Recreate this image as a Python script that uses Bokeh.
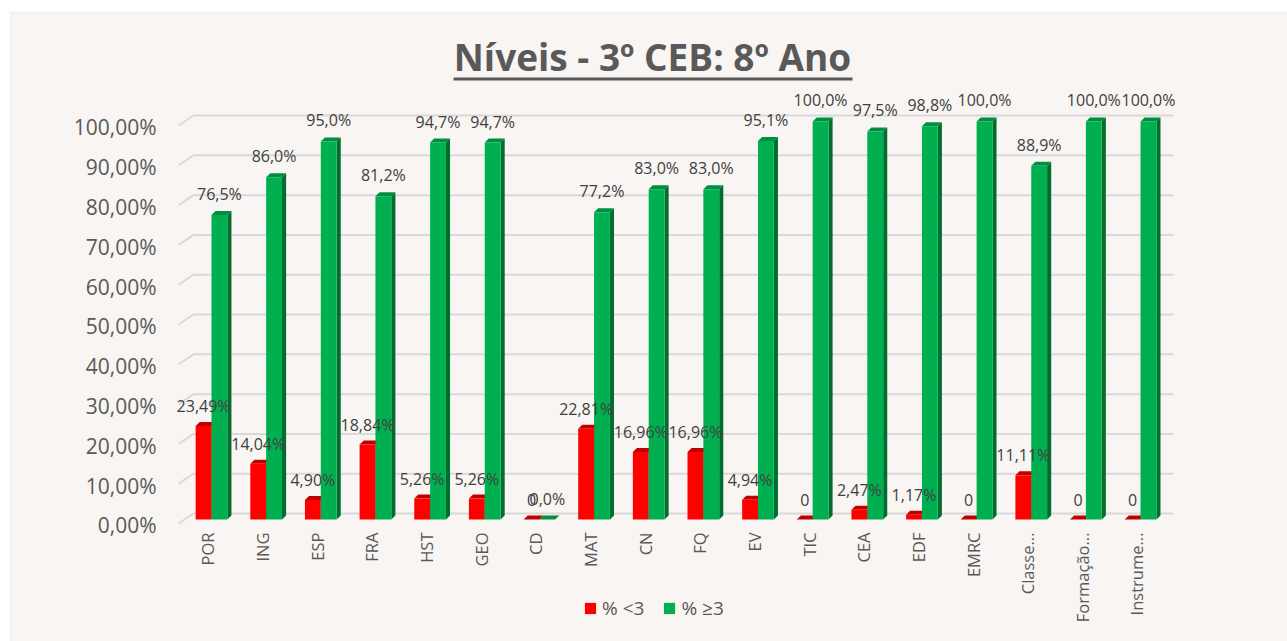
import math
from bokeh.plotting import figure
from bokeh.models import (Range1d, FixedTicker, LinearAxis, Label, BoxAnnotation,
                          Legend, LegendItem)
from bokeh.core.properties import value
from bokeh.embed import file_html
from bokeh.resources import INLINE

# ---------------- data ----------------
categories = ["POR", "ING", "ESP", "FRA", "HST", "GEO", "CD", "MAT", "CN", "FQ",
              "EV", "TIC", "CEA", "EDF", "EMRC", "Classe...", "Formação...", "Instrume..."]
pct_below = [23.49, 14.04, 4.90, 18.84, 5.26, 5.26, 0.0, 22.81, 16.96, 16.96,
             4.94, 0.0, 2.47, 1.17, 0.0, 11.11, 0.0, 0.0]
pct_above = [76.5, 86.0, 95.0, 81.2, 94.7, 94.7, 0.0, 77.2, 83.0, 83.0,
             95.1, 100.0, 97.5, 98.8, 100.0, 88.9, 100.0, 100.0]
y_ticks = [0, 10, 20, 30, 40, 50, 60, 70, 80, 90, 100]
series_names = ["% <3", "% ≥3"]
title_text = "Níveis - 3º CEB: 8º Ano"

# ---------------- style ----------------
BG = "#F8F5F2"
GRID = "#D9D9D9"
TXT = "#595959"
LBL = "#404040"
FONT = "Open Sans"
RED, RED_SIDE, RED_TOP = "#FF0000", "#A80000", "#C00000"
GRN, GRN_SIDE, GRN_TOP = "#00B050", "#006E2E", "#008F40"
BW = 0.29      # bar width (category units)
OFF = 0.145    # half distance between the two bars
DX = 0.075     # 3D depth in x
DY = 1.0       # 3D depth in y
W, H = 1287, 641

def fmt_tick(t):
    return f"{t:.2f}".replace(".", ",") + "%"

def fmt_below(v):
    return "0" if v == 0 else f"{v:.2f}".replace(".", ",") + "%"

def fmt_above(v):
    return f"{v:.1f}".replace(".", ",") + "%"

pos = list(range(len(categories)))

x0, x1 = -3.861, 19.689
y0, y1 = -30.65, 130.40
p = figure(width=W, height=H, output_backend="svg", toolbar_location=None,
           x_range=Range1d(x0, x1), y_range=Range1d(y0, y1),
           min_border=0, min_border_left=0, min_border_right=0,
           min_border_top=0, min_border_bottom=0,
           background_fill_color="white", border_fill_color="white",
           outline_line_color=None)
p.xgrid.visible = False
p.ygrid.visible = False

# chart area background with light border
p.add_layout(BoxAnnotation(left=10, right=W + 20, bottom=-20, top=H - 12,
                           left_units="screen", right_units="screen",
                           bottom_units="screen", top_units="screen",
                           fill_color=BG, fill_alpha=1, line_color=GRID,
                           line_width=1.5, level="underlay"))

# 3D style gridlines (back wall + slanted side)
p.segment(x0=[-0.33] * len(y_ticks), x1=[17.6] * len(y_ticks),
          y0=[t + 1.5 for t in y_ticks], y1=[t + 1.5 for t in y_ticks],
          line_color=GRID, line_width=2)
p.segment(x0=[-0.6] * len(y_ticks), x1=[-0.33] * len(y_ticks),
          y0=[t - 1.0 for t in y_ticks], y1=[t + 1.5 for t in y_ticks],
          line_color=GRID, line_width=2)

def bar3d(centers, vals, front, side, top):
    xl = [c - BW / 2 for c in centers]
    xr = [c + BW / 2 for c in centers]
    p.patches(xs=[[a, a + DX, b + DX, b] for a, b in zip(xl, xr)],
              ys=[[v, v + DY, v + DY, v] for v in vals],
              fill_color=top, line_color=None)
    p.patches(xs=[[b, b + DX, b + DX, b] for b in xr],
              ys=[[0, DY, v + DY, v] for v in vals],
              fill_color=side, line_color=None)
    return p.vbar(x=centers, top=vals, bottom=0, width=BW, fill_color=front, line_color=None)

red_x = [i - OFF for i in pos]
grn_x = [i + OFF for i in pos]
r_red = bar3d(red_x, pct_below, RED, RED_SIDE, RED_TOP)
r_grn = bar3d(grn_x, pct_above, GRN, GRN_SIDE, GRN_TOP)

p.text(x=red_x, y=pct_below, text=[fmt_below(v) for v in pct_below],
       text_align="center", text_baseline="middle", y_offset=-20,
       text_font=value(FONT), text_font_size="16px", text_color=LBL)
p.text(x=grn_x, y=pct_above, text=[fmt_above(v) for v in pct_above],
       text_align="center", text_baseline="middle", y_offset=-21,
       text_font=value(FONT), text_font_size="16px", text_color=LBL)

# axes (fixed inside the full-canvas frame)
p.yaxis.visible = False
p.xaxis.visible = False
p.extra_y_ranges = {"lab": Range1d(y0 + 1.5, y1 + 1.5)}
p.extra_x_ranges = {"xlab": Range1d(x0 + 0.065, x1 + 0.065)}
yax = LinearAxis(y_range_name="lab", ticker=FixedTicker(ticks=y_ticks),
                 major_label_overrides={float(t): fmt_tick(t) for t in y_ticks},
                 axis_line_color=None, major_tick_line_color=None,
                 minor_tick_line_color=None, major_label_text_font=FONT,
                 major_label_text_font_size="21px", major_label_text_color=TXT,
                 major_label_standoff=15, fixed_location=-0.62)
p.add_layout(yax, "left")

xax = LinearAxis(x_range_name="xlab", ticker=FixedTicker(ticks=pos),
                 major_label_overrides={float(i): c for i, c in zip(pos, categories)},
                 major_label_orientation=math.pi / 2,
                 axis_line_color=None, major_tick_line_color=None,
                 minor_tick_line_color=None, major_label_text_font=FONT,
                 major_label_text_font_size="16.5px", major_label_text_color=TXT,
                 major_label_standoff=0, fixed_location=-1.76)
p.add_layout(xax, "below")

# legend
legend = Legend(items=[LegendItem(label=series_names[0], renderers=[r_red]),
                       LegendItem(label=series_names[1], renderers=[r_grn])],
                orientation="horizontal", location=(583, 20),
                background_fill_alpha=0, border_line_color=None,
                glyph_width=14, glyph_height=14, label_standoff=5, spacing=18,
                padding=0, margin=0, label_text_font=FONT,
                label_text_font_size="19px", label_text_color=TXT)
p.add_layout(legend)

# title + underline
p.add_layout(Label(x=652, y=H - 56, x_units="screen", y_units="screen", text=title_text,
                   text_align="center", text_baseline="alphabetic", text_font=FONT,
                   text_font_style="bold", text_font_size="37px", text_color=TXT))
p.add_layout(BoxAnnotation(left=453, right=852, bottom=H - 80, top=H - 77,
                           left_units="screen", right_units="screen",
                           bottom_units="screen", top_units="screen",
                           fill_color=TXT, fill_alpha=1, line_color=None))

open("out.html", "w").write(file_html(p, INLINE))
